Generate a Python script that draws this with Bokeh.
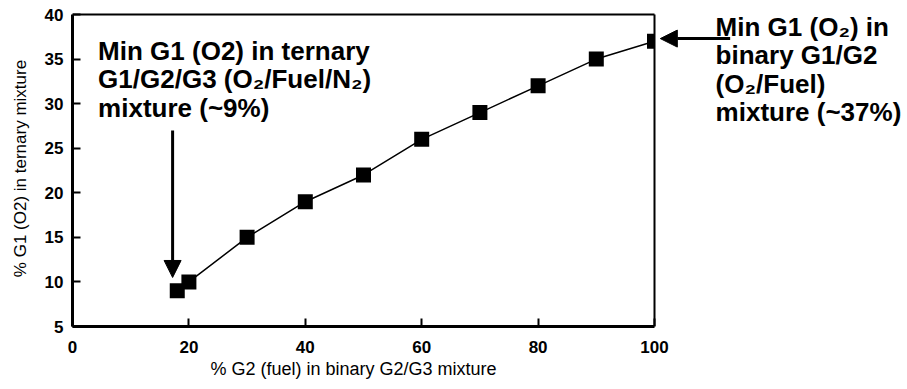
import numpy as np
from bokeh.plotting import figure
from bokeh.models import Arrow, NormalHead, Label, Range1d, FixedTicker, Title
from bokeh.embed import file_html
from bokeh.resources import INLINE

# data
fuel_pct = [18, 20, 30, 40, 50, 60, 70, 80, 90, 100]
o2_pct = [9, 10, 15, 19, 22, 26, 29, 32, 35, 37]
x_ticks = [0, 20, 40, 60, 80, 100]
y_ticks = [5, 10, 15, 20, 25, 30, 35, 40]

x_title = "% G2 (fuel) in binary G2/G3  mixture"
y_title = "% G1 (O2) in ternary mixture"
left_note = ["Min G1 (O2) in ternary", "G1/G2/G3 (O\u2082/Fuel/N\u2082)", "mixture (~9%)"]
right_note = ["Min G1 (O\u2082) in", "binary G1/G2", "(O\u2082/Fuel)", "mixture (~37%)"]

FONT = "Liberation Sans"

W, H = 907, 389
LEFT, TOP, BOTTOM = 72, 10, 63
FRAME_W = W - LEFT
FRAME_H = H - TOP - BOTTOM
X_END = 143.47   # frame extends past the visible box to hold the right-hand note
Y_END = 40.45
px_x = FRAME_W / X_END
px_y = FRAME_H / (Y_END - y_ticks[0])

p = figure(width=W, height=H, output_backend="svg", toolbar_location=None,
           x_range=Range1d(0, X_END), y_range=Range1d(y_ticks[0], Y_END),
           min_border_left=LEFT, min_border_right=0, min_border_top=TOP, min_border_bottom=BOTTOM)
p.background_fill_color = "white"
p.border_fill_color = "white"
p.outline_line_color = None
p.xgrid.visible = False
p.ygrid.visible = False

for ax in (p.xaxis[0], p.yaxis[0]):
    ax.axis_line_width = 3
    ax.axis_line_color = "black"
    ax.major_tick_in = 8
    ax.major_tick_out = 0
    ax.major_tick_line_width = 2
    ax.minor_tick_line_color = None
    ax.major_label_text_font = FONT
    ax.major_label_text_font_style = "bold"
    ax.major_label_text_font_size = "17px"
    ax.major_label_text_color = "black"
    ax.axis_label_text_font = FONT
    ax.axis_label_text_font_style = "normal"
    ax.axis_label_text_color = "black"

p.xaxis.bounds = (x_ticks[0], x_ticks[-1])
p.yaxis.bounds = (y_ticks[0], y_ticks[-1])
p.xaxis.ticker = FixedTicker(ticks=x_ticks)
p.yaxis.ticker = FixedTicker(ticks=y_ticks)
p.xaxis.major_label_standoff = 14
p.yaxis.major_label_standoff = 9
p.yaxis.axis_label = y_title
p.yaxis.axis_label_text_font_size = "17px"
p.yaxis.axis_label_standoff = 12

# x-axis title, placed under the visible box (not under the whole frame)
p.add_layout(Title(text=x_title, align="left", offset=138, text_font=FONT,
                   text_font_style="normal", text_font_size="18px", text_color="black",
                   standoff=2), "below")

# top and right edges of the box
p.segment(x0=[x_ticks[0], x_ticks[-1]], y0=[y_ticks[-1], y_ticks[0]],
          x1=[x_ticks[-1], x_ticks[-1]], y1=[y_ticks[-1], y_ticks[-1]],
          line_color="black", line_width=2)

p.line(fuel_pct, o2_pct, line_color="black", line_width=1.5)

# square markers, cut off at the right edge of the box like the original
xs = np.array(fuel_pct, dtype=float)
ys = np.array(o2_pct, dtype=float)
hx = 7.5 / px_x
hy = 7.5 / px_y
p.quad(left=xs - hx, right=np.minimum(xs + hx, x_ticks[-1]), bottom=ys - hy, top=ys + hy,
       fill_color="black", line_color=None)

# annotations
p.add_layout(Arrow(end=NormalHead(size=17, fill_color="black", line_color="black"),
                   x_start=17.2, y_start=27.0, x_end=17.2, y_end=10.5,
                   line_width=3, line_color="black"))
p.add_layout(Arrow(end=NormalHead(size=17, fill_color="black", line_color="black"),
                   x_start=113.0, y_start=37.3, x_end=101.0, y_end=37.3,
                   line_width=3, line_color="black"))

for i, t in enumerate(left_note):
    p.add_layout(Label(x=4.4, y=35.95 - i * 3.2, text=t, text_font=FONT, text_font_style="bold",
                       text_font_size="26px", text_baseline="alphabetic", text_color="black"))
for i, t in enumerate(right_note):
    p.add_layout(Label(x=110.5, y=38.6 - i * 3.18, text=t, text_font=FONT, text_font_style="bold",
                       text_font_size="26px", text_baseline="alphabetic", text_color="black"))

open("out.html", "w").write(file_html(p, INLINE))
